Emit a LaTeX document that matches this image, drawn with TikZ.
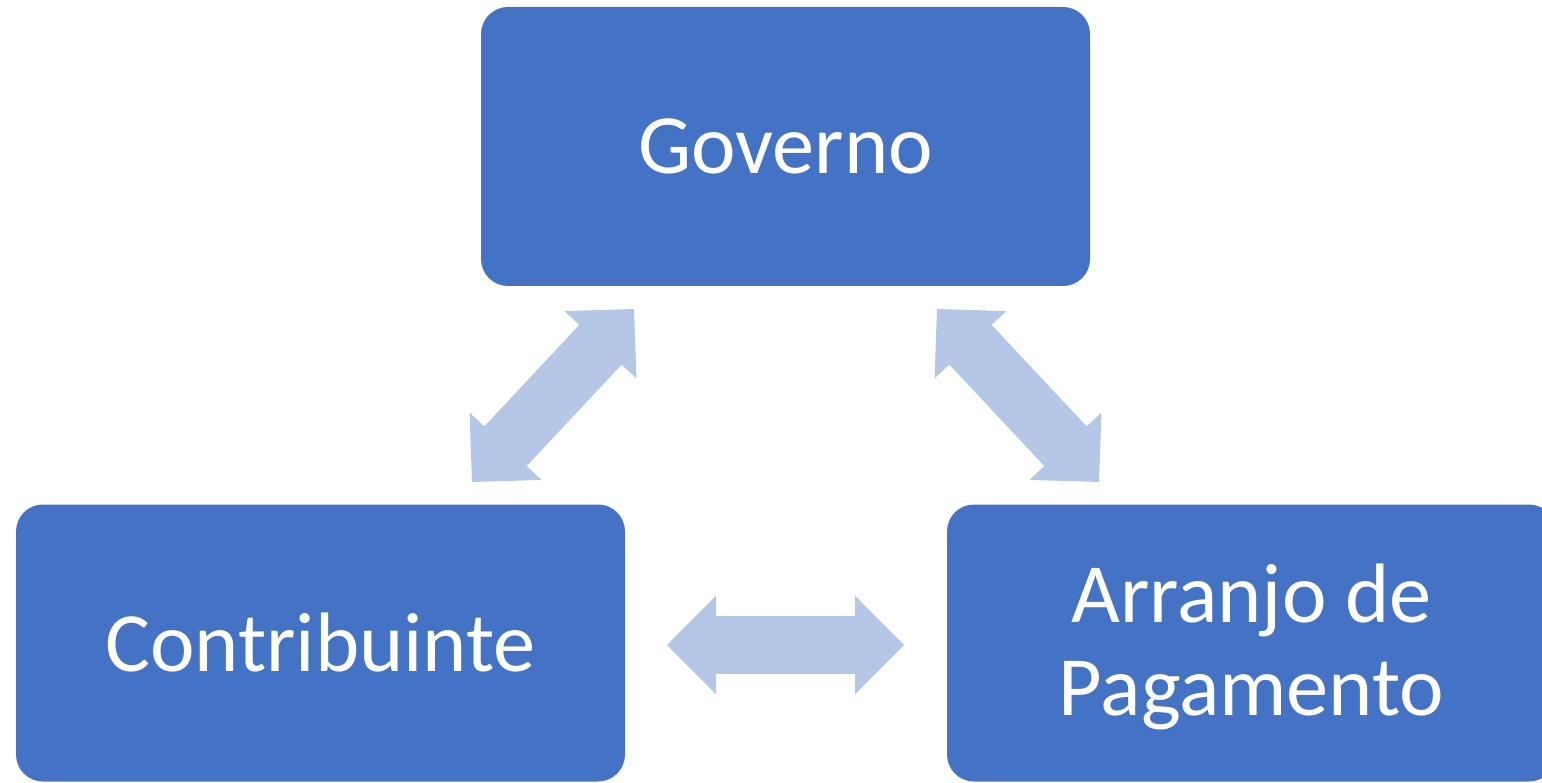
\documentclass[tikz,border=0pt]{standalone}
\usepackage{fontspec}
\setmainfont{Carlito}
\usetikzlibrary{arrows.meta}
\definecolor{boxblue}{HTML}{4472C4}
\definecolor{arrowblue}{HTML}{B4C7E7}
\tikzset{
  entitybox/.style={fill=boxblue, rounded corners=0.27cm, inner sep=0pt,
    minimum width=6.09cm, minimum height=2.77cm, text=white, align=center,
    font=\fontsize{24}{26.5}\selectfont},
  flowarrow/.style={draw=arrowblue, line width=5.8mm,
    {Triangle[length=4.9mm,width=9.8mm,line width=0.8pt]}-{Triangle[length=4.9mm,width=9.8mm,line width=0.8pt]}}
}
\begin{document}
\begin{tikzpicture}
          \useasboundingbox (0,0) rectangle (15.42,7.82);
          \node[entitybox, minimum height=2.79cm] (governo) at (7.855, 6.355) {Governo};
          \node[entitybox] (contribuinte) at (3.205, 1.39) {Contribuinte};
          \node[entitybox, text height=1.60cm] (arranjo) at (12.515, 1.39) {Arranjo de\\Pagamento};
          \coordinate (contribuinteup) at (4.72, 3.00);
          \coordinate (governoleft) at (6.34, 4.73);
          \coordinate (governoright) at (9.37, 4.73);
          \coordinate (arranjoup) at (10.99, 3.00);
          \coordinate (contribuinteright) at (6.67, 1.37);
          \coordinate (arranjoleft) at (9.04, 1.37);
          \draw[flowarrow] (contribuinteup) -- (governoleft);
          \draw[flowarrow] (governoright) -- (arranjoup);
          \draw[flowarrow] (contribuinteright) -- (arranjoleft);
        \end{tikzpicture}
\end{document}
